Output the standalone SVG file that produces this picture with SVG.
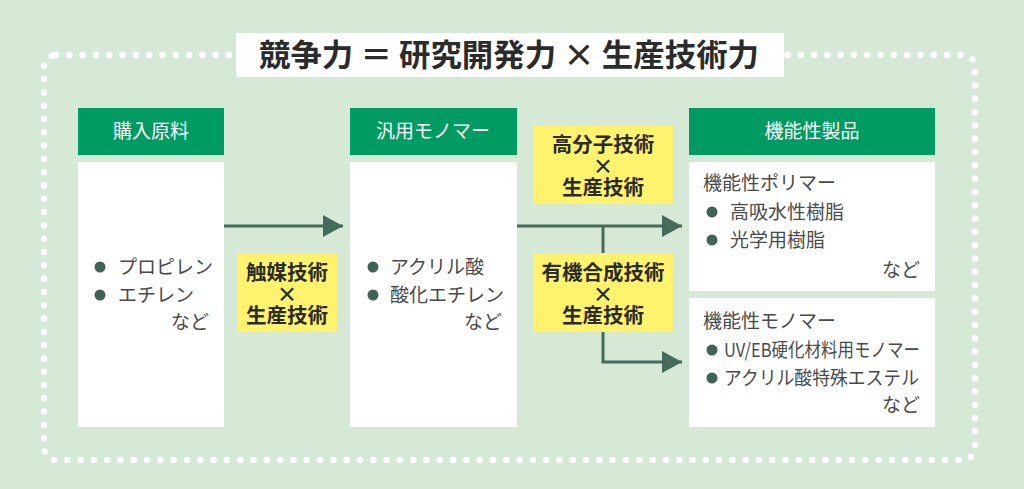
<svg xmlns="http://www.w3.org/2000/svg" width="1024" height="489" viewBox="0 0 1024 489">
<defs>
<style>
text{font-family:"Noto Sans CJK JP","Noto Sans",sans-serif;}
.hdr{fill:#009a63;}
.hdrt{fill:#ffffff;font-size:19px;text-anchor:middle;}
.body{fill:#ffffff;}
.yel{fill:#fff36e;}
.yt{fill:#2b2b2b;font-size:20.5px;font-weight:bold;text-anchor:middle;}
.t{fill:#4a4a4a;font-size:19px;}
.te{fill:#4a4a4a;font-size:19px;text-anchor:end;}
.dot{fill:#3f6354;}
.conn{stroke:#456b5b;stroke-width:3;fill:none;}
</style>
<marker id="ah" viewBox="0 0 20 22" refX="20" refY="11" markerWidth="20" markerHeight="22" markerUnits="userSpaceOnUse" orient="auto">
<path d="M0,0 L20,11 L0,22 Z" fill="#456b5b"/>
</marker>
</defs>
<rect x="0" y="0" width="1024" height="489" fill="#d6e9d6"/>
<rect x="44" y="55" width="931" height="405" rx="12" fill="none" stroke="#ffffff" stroke-width="6.5" stroke-linecap="round" stroke-dasharray="0 13.3"/>
<g id="title">
<rect x="236" y="33" width="548" height="44" fill="#ffffff"/>
<text x="509" y="66" font-size="31" font-weight="bold" fill="#2b2b2b" text-anchor="middle" textLength="500" lengthAdjust="spacingAndGlyphs">競争力 ＝ 研究開発力 × 生産技術力</text>
</g>
<g id="connectors">
<line class="conn" x1="224" y1="226" x2="343" y2="226" marker-end="url(#ah)"/>
<line class="conn" x1="517" y1="226" x2="682" y2="226" marker-end="url(#ah)"/>
<polyline class="conn" points="603,226 603,362 682,362" marker-end="url(#ah)"/>
</g>
<g id="node-purchase">
<rect class="hdr" x="78" y="108" width="146" height="47"/>
<text class="hdrt" x="151" y="138">購入原料</text>
<rect class="body" x="78" y="162" width="146" height="265"/>
<circle class="dot" cx="100" cy="267" r="5.5"/>
<text class="t" x="118" y="274">プロピレン</text>
<circle class="dot" cx="100" cy="295" r="5.5"/>
<text class="t" x="118" y="302">エチレン</text>
<text class="te" x="209" y="329">など</text>
</g>
<g id="node-monomer">
<rect class="hdr" x="350" y="108" width="167" height="47"/>
<text class="hdrt" x="433" y="138">汎用モノマー</text>
<rect class="body" x="350" y="162" width="167" height="265"/>
<circle class="dot" cx="373" cy="267" r="5.5"/>
<text class="t" x="390" y="274">アクリル酸</text>
<circle class="dot" cx="373" cy="295" r="5.5"/>
<text class="t" x="390" y="302">酸化エチレン</text>
<text class="te" x="502" y="329">など</text>
</g>
<g id="node-products">
<rect class="hdr" x="689" y="108" width="246" height="47"/>
<text class="hdrt" x="812" y="138">機能性製品</text>
<rect class="body" x="689" y="162" width="246" height="129"/>
<text class="t" x="703" y="190">機能性ポリマー</text>
<circle class="dot" cx="712" cy="212" r="5.5"/>
<text class="t" x="730" y="219">高吸水性樹脂</text>
<circle class="dot" cx="712" cy="240" r="5.5"/>
<text class="t" x="730" y="247">光学用樹脂</text>
<text class="te" x="920" y="277">など</text>
<rect class="body" x="689" y="298" width="246" height="129"/>
<text class="t" x="703" y="328">機能性モノマー</text>
<circle class="dot" cx="712" cy="350" r="5.5"/>
<text class="t" x="724" y="357" textLength="196" lengthAdjust="spacingAndGlyphs">UV/EB硬化材料用モノマー</text>
<circle class="dot" cx="712" cy="378" r="5.5"/>
<text class="t" x="724" y="385" textLength="195" lengthAdjust="spacingAndGlyphs">アクリル酸特殊エステル</text>
<text class="te" x="920" y="412">など</text>
</g>
<g id="label-catalyst">
<rect class="yel" x="237" y="253" width="100" height="79"/>
<text class="yt" x="287" y="280">触媒技術<tspan x="287" dy="21.5">×</tspan><tspan x="287" dy="21.5">生産技術</tspan></text>
</g>
<g id="label-polymer">
<rect class="yel" x="533" y="125" width="140" height="79"/>
<text class="yt" x="603" y="152">高分子技術<tspan x="603" dy="21.5">×</tspan><tspan x="603" dy="21.5">生産技術</tspan></text>
</g>
<g id="label-organic">
<rect class="yel" x="533" y="253" width="140" height="79"/>
<text class="yt" x="603" y="280">有機合成技術<tspan x="603" dy="21.5">×</tspan><tspan x="603" dy="21.5">生産技術</tspan></text>
</g>
</svg>
